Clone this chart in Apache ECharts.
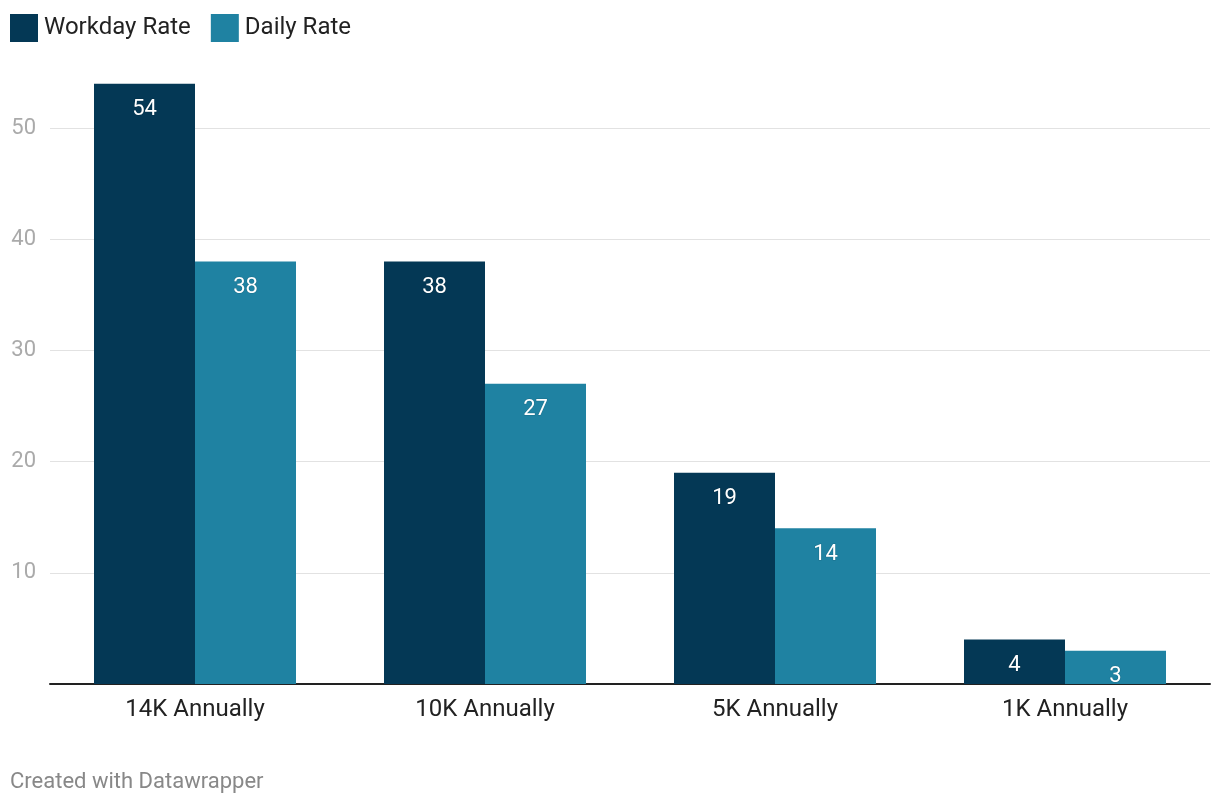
<!DOCTYPE html>
<html><head><meta charset="utf-8">
<script src="https://cdn.jsdelivr.net/npm/echarts@6/dist/echarts.min.js"></script>
<style>html,body{margin:0;padding:0;background:#fff}#c{width:1220px;height:806px}</style>
</head><body><div id="c"></div>
<script>
const categories = ['14K Annually', '10K Annually', '5K Annually', '1K Annually'];
const workdayRate = [54, 38, 19, 4];
const dailyRate = [38, 27, 14, 3];
const seriesNames = ['Workday Rate', 'Daily Rate'];

const chart = echarts.init(document.getElementById('c'));
const labelStyle = {show: true, position: 'insideTop', distance: 15, color: '#fff', fontSize: 22, fontFamily: 'Roboto',
  textBorderColor: 'rgba(0,0,0,0.15)', textBorderWidth: 1};
chart.setOption({
  animation: false,
  textStyle: {fontFamily: 'Roboto'},
  legend: {
    left: 10, top: 14, padding: 0, itemWidth: 28, itemHeight: 28, itemGap: 20,
    icon: 'rect',
    textStyle: {fontSize: 24, color: '#222', fontFamily: 'Roboto', padding: [0, 0, 0, 1]},
    data: seriesNames
  },
  grid: {left: 50, right: 10, top: 17, bottom: 122},
  xAxis: {
    type: 'category', data: categories,
    axisLine: {lineStyle: {color: '#222', width: 2}},
    axisTick: {show: false},
    axisLabel: {fontSize: 24, color: '#222', margin: 14}
  },
  yAxis: {
    type: 'value', min: 0, max: 60, interval: 10,
    axisLine: {show: false}, axisTick: {show: false},
    axisLabel: {fontSize: 22, color: '#aaa', margin: 14, align: 'right',
      formatter: v => (v === 0 || v === 60) ? '' : String(v)},
    splitLine: {lineStyle: {color: ['#e2e2e2','#e2e2e2','#e2e2e2','#e2e2e2','#e2e2e2','#e2e2e2','rgba(0,0,0,0)'], width: 1}}
  },
  series: [
    {name: seriesNames[0], type: 'bar', data: workdayRate, barWidth: 101, barGap: '0%',
     itemStyle: {color: '#043855'}, label: labelStyle},
    {name: seriesNames[1], type: 'bar', data: dailyRate, barWidth: 101,
     itemStyle: {color: '#1f82a2'}, label: labelStyle}
  ],
  graphic: [{type: 'text', left: 10, top: 771, style: {text: 'Created with Datawrapper', fill: '#888', fontSize: 22, fontFamily: 'Roboto'}}]
});
</script></body></html>
